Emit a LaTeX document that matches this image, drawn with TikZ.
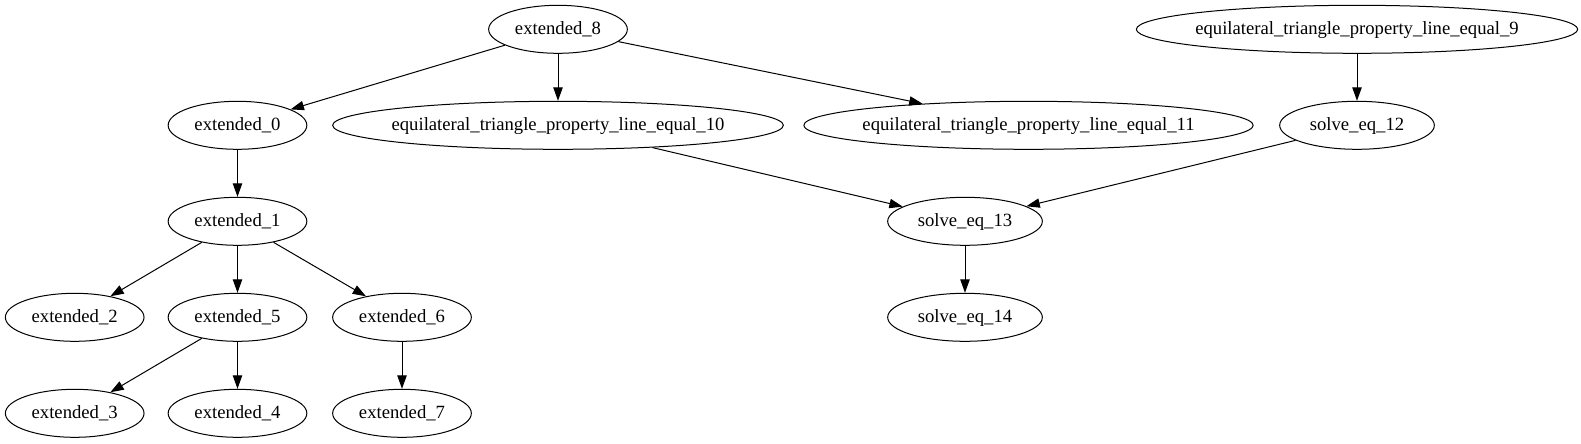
\documentclass[tikz,border=0pt]{standalone}
\usepackage{fontspec}
\setmainfont{Liberation Serif}
\usetikzlibrary{shapes.geometric,arrows.meta}
\newcommand{\zbox}[1]{\makebox[0pt]{#1}}
\begin{document}
\begin{tikzpicture}[x=0.75pt,y=-0.75pt,
  nd/.style={ellipse,draw,line width=0.75pt,inner sep=0pt,minimum height=36pt,text height=10pt,text depth=2.5pt,font=\fontsize{14pt}{16pt}\selectfont},
  sm/.style={nd,minimum width=104pt},
  sv/.style={nd,minimum width=116pt},
  lg/.style={nd,minimum width=#1},
  ar/.style={line width=0.75pt,-{Triangle[length=10pt,width=7pt]}}]
\useasboundingbox (0,0) rectangle (1581,443);
\node[sm] (e8) at (558,29.3) {\zbox{extended\_8}};
\node[sm] (e0) at (237.5,125.3) {\zbox{extended\_0}};
\node[lg=338pt] (q10) at (558,125.3) {\zbox{equilateral\_triangle\_property\_line\_equal\_10}};
\node[lg=337pt] (q11) at (1028.5,125.3) {\zbox{equilateral\_triangle\_property\_line\_equal\_11}};
\node[lg=331pt] (q9) at (1357,29.3) {\zbox{equilateral\_triangle\_property\_line\_equal\_9}};
\node[sv] (s12) at (1357,125.3) {\zbox{solve\_eq\_12}};
\node[sm] (e1) at (237.5,221.3) {\zbox{extended\_1}};
\node[sv] (s13) at (965,221.3) {\zbox{solve\_eq\_13}};
\node[sm] (e2) at (74.7,317.3) {\zbox{extended\_2}};
\node[sm] (e5) at (237.5,317.3) {\zbox{extended\_5}};
\node[sm] (e6) at (402,317.3) {\zbox{extended\_6}};
\node[sv] (s14) at (965,317.3) {\zbox{solve\_eq\_14}};
\node[sm] (e3) at (74.7,413.3) {\zbox{extended\_3}};
\node[sm] (e4) at (237.5,413.3) {\zbox{extended\_4}};
\node[sm] (e7) at (402,413.3) {\zbox{extended\_7}};
\draw[ar] (e8) -- (e0);
\draw[ar] (e8) -- (q10);
\draw[ar] (e8) -- (q11);
\draw[ar] (e0) -- (e1);
\draw[ar] (e1) -- (e2);
\draw[ar] (e1) -- (e5);
\draw[ar] (e1) -- (e6);
\draw[ar] (e5) -- (e3);
\draw[ar] (e5) -- (e4);
\draw[ar] (e6) -- (e7);
\draw[ar] (q9) -- (s12);
\draw[ar] (q10) -- (s13);
\draw[ar] (s12) -- (s13);
\draw[ar] (s13) -- (s14);
\end{tikzpicture}
\end{document}
